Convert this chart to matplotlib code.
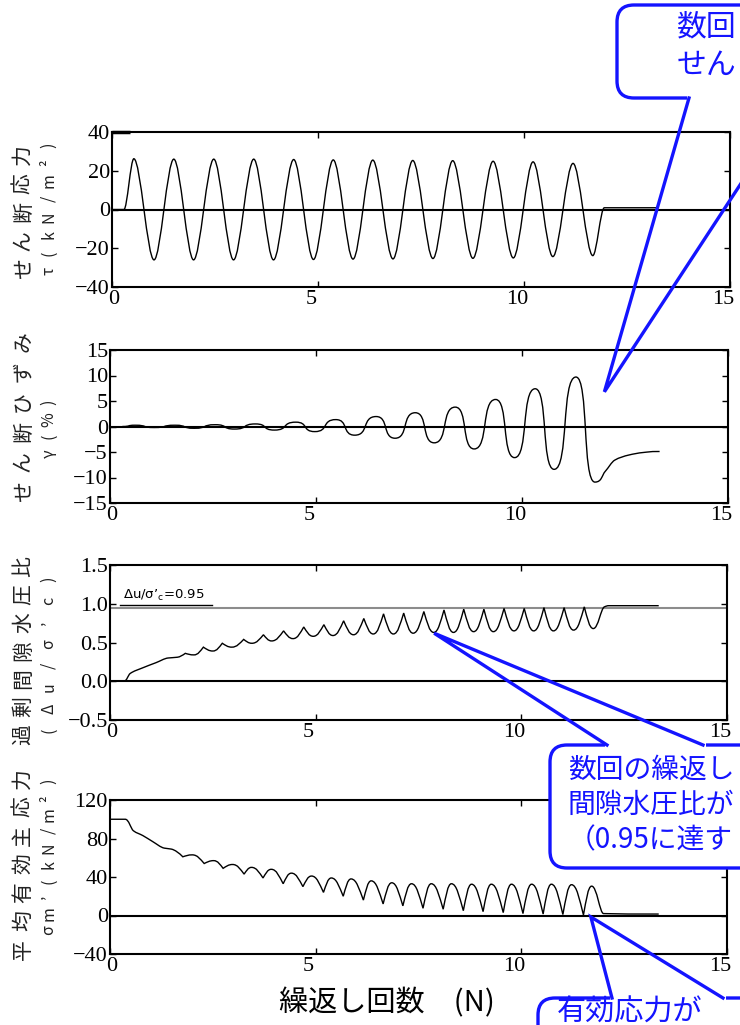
import numpy as np
import matplotlib
matplotlib.use("Agg")
import matplotlib.pyplot as plt
from matplotlib.path import Path
from matplotlib.patches import PathPatch, FancyBboxPatch
from matplotlib.lines import Line2D
from matplotlib.transforms import ScaledTranslation

# ---------------- data ----------------
x_ticks = [0, 5, 10, 15]

# shear stress tau (kN/m2): extremes of each half cycle
tau_N = [0.0, 0.29, 0.53, 1.02, 1.50, 1.98, 2.47, 2.95, 3.44, 3.92, 4.41, 4.89,
         5.37, 5.85, 6.33, 6.82, 7.30, 7.79, 8.27, 8.76, 9.25, 9.74, 10.22,
         10.70, 11.19, 11.67, 11.95, 13.25]
tau_kPa = [0.0, 0.0, 26.2, -26.0, 26.0, -26.0, 26.0, -26.0, 26.0, -26.0, 25.8,
           -25.8, 25.6, -25.6, 25.5, -25.5, 25.3, -25.3, 25.2, -25.2, 24.9,
           -25.0, 24.6, -24.3, 23.8, -23.8, 0.9, 0.9]
tau_cap_N = [0.0, 0.43]
tau_cap = [40.0, 40.0]

# shear strain gamma (%)
gamma_N = [0.30, 0.61, 1.07, 1.58, 2.04, 2.56, 3.02, 3.53, 3.99, 4.51, 4.97,
           5.48, 5.94, 6.46, 6.92, 7.41, 7.87, 8.38, 8.84, 9.36, 9.82, 10.32,
           10.78, 11.31, 11.77, 12.02, 12.25, 12.59, 12.94, 13.34]
gamma_pct = [0.0, 0.25, -0.2, 0.25, -0.35, 0.35, -0.5, 0.5, -0.7, 0.85, -1.0,
             1.35, -1.7, 1.95, -2.3, 2.7, -3.2, 3.8, -4.4, 5.3, -6.1, 7.4,
             -8.4, 9.7, -10.9, -8.8, -6.6, -5.6, -5.1, -4.9]

# excess pore water pressure ratio
ru_N = [0.0, 0.34, 0.49, 0.78, 1.12, 1.41, 1.64, 1.83, 2.04, 2.27, 2.50, 2.73,
        2.96, 3.25, 3.45, 3.73, 3.93, 4.22, 4.45, 4.71, 4.94, 5.20, 5.42, 5.68,
        5.92, 6.17, 6.40, 6.65, 6.89, 7.14, 7.37, 7.63, 7.87, 8.12, 8.35, 8.60,
        8.84, 9.09, 9.32, 9.58, 9.82, 10.07, 10.30, 10.55, 10.78, 11.04, 11.27,
        11.53, 11.75, 12.02, 12.13, 13.34]
ru = [0.0, 0.0, 0.10, 0.17, 0.24, 0.30, 0.31, 0.36, 0.34, 0.44, 0.39, 0.49,
      0.44, 0.54, 0.49, 0.60, 0.52, 0.65, 0.55, 0.70, 0.58, 0.73, 0.59, 0.78,
      0.60, 0.81, 0.61, 0.87, 0.61, 0.88, 0.62, 0.90, 0.63, 0.92, 0.63, 0.93,
      0.64, 0.93, 0.64, 0.94, 0.65, 0.94, 0.65, 0.95, 0.65, 0.95, 0.66, 0.96,
      0.68, 0.96, 0.975, 0.975]
ru_threshold = 0.95
ru_mark_N = [0.24, 2.48]
ru_mark = [0.99, 0.99]
ru_label = "Δu/σ’$_{\\rm c}$=0.95"

# mean effective principal stress (kN/m2)
sm_N = [0.0, 0.37, 0.57, 0.80, 1.03, 1.32, 1.49, 1.77, 2.00, 2.29, 2.52, 2.75,
        2.98, 3.26, 3.44, 3.72, 3.92, 4.21, 4.41, 4.69, 4.90, 5.19, 5.38, 5.67,
        5.86, 6.16, 6.35, 6.64, 6.85, 7.12, 7.33, 7.61, 7.81, 8.10, 8.30, 8.59,
        8.79, 9.07, 9.27, 9.56, 9.76, 10.04, 10.25, 10.53, 10.73, 11.01, 11.22,
        11.51, 11.71, 12.00, 13.34]
sm_kPa = [100.0, 100.0, 88.0, 83.0, 77.0, 70.0, 69.0, 61.0, 63.0, 54.0, 57.0,
          49.0, 53.0, 43.0, 50.0, 39.0, 48.0, 33.0, 44.0, 30.0, 41.0, 24.0, 39.0,
          20.0, 38.0, 16.0, 36.0, 12.0, 34.0, 10.0, 33.0, 7.5, 33.0, 6.5, 33.0,
          5.0, 32.5, 4.0, 32.5, 3.0, 32.5, 2.0, 32.5, 1.5, 32.5, 1.0, 32.0, 0.5,
          30.5, 2.0, 1.5]

panel_ylims = [(-40, 40), (-15, 15), (-0.5, 1.5), (-40, 120)]
panel_yticks = [[-40, -20, 0, 20, 40], [-15, -10, -5, 0, 5, 10, 15],
                [-0.5, 0.0, 0.5, 1.0, 1.5], [-40, 0, 40, 80, 120]]
panel_ydec = [0, 0, 1, 0]
ylabel_main = ["せん断応力", "せん断ひずみ", "過剰間隙水圧比", "平均有効主応力"]
ylabel_unit = ["τ(kN/m²)", "γ(%)", "(Δu/σ’c)", "σm’(kN/m²)"]
xlabel = "繰返し回数\u3000(N)"
# callout texts as far as they are visible in the (cropped) reference
callout1 = ["数回", "せん"]
callout2 = ["数回の繰返し", "間隙水圧比が", "（0.95に達す"]
callout3 = ["有効応力が"]
tip1_data = (12.0, 6.8)
tip2_data = (7.88, 0.62)
tip3_data = (11.69, -1.5)

# ---------------- style ----------------
W, H = 740, 1025
JP = ["Noto Sans CJK JP", "DejaVu Sans"]
SERIF = ["Liberation Serif", "DejaVu Serif"]
BLUE = "#1414ff"
plt.rcParams.update({
    "font.family": SERIF,
    "axes.linewidth": 1.5,
    "xtick.direction": "in", "ytick.direction": "in",
    "xtick.top": True, "ytick.right": True,
    "xtick.major.size": 4, "ytick.major.size": 4,
    "xtick.major.width": 1.0, "ytick.major.width": 1.0,
    "xtick.major.pad": 2.5, "ytick.major.pad": 1.5,
})

fig = plt.figure(figsize=(W / 100, H / 100), dpi=100)
T = fig.dpi_scale_trans


def px_axes(l, t, r, b):
    return fig.add_axes([l / W, 1 - b / H, (r - l) / W, (b - t) / H])


def smooth_curve(ax, xs, ys, cusp=None, flat=1 / 3, **kw):
    """Draw a smooth Bezier path through the read points."""
    xs = np.asarray(xs, float)
    ys = np.asarray(ys, float)
    n = len(xs)
    h = np.diff(xs)
    d = np.diff(ys) / h
    m_in = np.zeros(n)
    m_out = np.zeros(n)
    for i in range(1, n - 1):
        if d[i - 1] * d[i] > 0:
            w1 = 2 * h[i] + h[i - 1]
            w2 = h[i] + 2 * h[i - 1]
            m = (w1 + w2) / (w1 / d[i - 1] + w2 / d[i])
            m_in[i] = m_out[i] = m
        elif cusp is not None:
            is_max = d[i - 1] > 0 and d[i] < 0
            is_min = d[i - 1] < 0 and d[i] > 0
            if (cusp == "max" and is_max) or (cusp == "min" and is_min):
                m_in[i] = 1.5 * d[i - 1]
                m_out[i] = 1.5 * d[i]
    verts = [(xs[0], ys[0])]
    codes = [Path.MOVETO]
    for i in range(n - 1):
        hh = h[i]
        f0 = flat if m_out[i] == 0 else 1 / 3
        f1 = flat if m_in[i + 1] == 0 else 1 / 3
        verts += [(xs[i] + f0 * hh, ys[i] + m_out[i] * hh / 3),
                  (xs[i + 1] - f1 * hh, ys[i + 1] - m_in[i + 1] * hh / 3),
                  (xs[i + 1], ys[i + 1])]
        codes += [Path.CURVE4] * 3
    ax.add_patch(PathPatch(Path(verts, codes), fill=False, **kw))


def fmt(v, dec):
    return (f"{v:.{dec}f}").replace("-", "\u2212")


boxes = [(112, 132, 730, 287), (110, 350, 728, 503),
         (110, 565, 727, 720), (110, 800, 727, 954)]
axes = []
for k, (l, t, r, b) in enumerate(boxes):
    ax = px_axes(l, t, r, b)
    ax.set_xlim(0, 15)
    ax.set_ylim(*panel_ylims[k])
    ax.set_xticks(x_ticks, labels=[str(v) for v in x_ticks],
                  fontfamily=SERIF, fontsize=16)
    ax.set_yticks(panel_yticks[k],
                  labels=[fmt(v, panel_ydec[k]) for v in panel_yticks[k]],
                  fontfamily=SERIF, fontsize=16)
    for v, lab in zip(x_ticks, ax.get_xticklabels()):
        shift = 2 if v == 0 else -7
        lab.set_transform(lab.get_transform() + ScaledTranslation(shift / 100, 0, T))
    ax.axhline(0, color="black", lw=1.5, zorder=2)
    axes.append(ax)

line_kw = dict(color="black", lw=1.0, zorder=3)
smooth_curve(axes[0], tau_N, tau_kPa, **line_kw)
axes[0].plot(tau_cap_N, tau_cap, color="black", lw=2.5, solid_capstyle="butt",
             clip_on=False)
smooth_curve(axes[1], gamma_N, gamma_pct, flat=0.68, **line_kw)
axes[2].axhline(ru_threshold, color="#8c8c8c", lw=1.5, zorder=2)
axes[2].plot(ru_mark_N, ru_mark, color="black", lw=1.0)
axes[2].text(0.32, 1.005, ru_label, fontsize=9.5, ha="left", va="bottom",
             family="DejaVu Sans")
smooth_curve(axes[2], ru_N, ru, cusp="max", flat=0.45, **line_kw)
smooth_curve(axes[3], sm_N, sm_kPa, cusp="min", flat=0.45, **line_kw)

# ---------------- y labels (vertical, character by character) -------------


def P(x, y):
    return x / 100.0, (H - y) / 100.0


label_layout = [  # (col1 centre y, col2 centre y, col1 pitch, col2 pitch)
    (212, 208, 28.5, 18.0),
    (417, 428, 30.0, 17.0),
    (651, 655, 28.0, 21.5),
    (864, 856, 28.5, 16.5),
]
for k, (c1, c2, p1, p2) in enumerate(label_layout):
    for col_x, cy, pitch, txt, fs in ((23, c1, p1, ylabel_main[k], 15),
                                      (49, c2, p2, ylabel_unit[k], 11.5)):
        n = len(txt)
        for j, ch in enumerate(txt):
            y = cy + ((n - 1) / 2 - j) * pitch
            fig.text(*P(col_x, y), ch, transform=T, rotation=90, ha="center",
                     va="center", fontsize=fs, family=JP, color="#222222")

fig.text(*P(387, 1003), xlabel, transform=T, ha="center", va="center",
         fontsize=21, family=JP, color="black")

# ---------------- callouts ----------------


def data_to_px(ax, pt):
    dx, dy = ax.transData.transform(pt)
    return dx / fig.dpi * 100.0, H - dy / fig.dpi * 100.0


def callout(x0, y0, x1, y1, base_a, base_b, tip):
    box = FancyBboxPatch(P(x0, y1), (x1 - x0) / 100, (y1 - y0) / 100,
                         boxstyle="round,pad=0,rounding_size=0.17",
                         transform=T, fc="white", ec=BLUE, lw=2.4, zorder=10)
    fig.add_artist(box)
    gap = Line2D([P(*base_a)[0], P(*base_b)[0]], [P(*base_a)[1], P(*base_b)[1]],
                 transform=T, color="white", lw=3.6, zorder=11)
    fig.add_artist(gap)
    xs = [P(*base_a)[0], P(*tip)[0], P(*base_b)[0]]
    ys = [P(*base_a)[1], P(*tip)[1], P(*base_b)[1]]
    fig.add_artist(Line2D(xs, ys, transform=T, color=BLUE, lw=2.4, zorder=12,
                          solid_joinstyle="miter"))


tip1 = data_to_px(axes[1], tip1_data)
tip2 = data_to_px(axes[2], tip2_data)
tip3 = data_to_px(axes[3], tip3_data)
callout(617, 5, 960, 98, (689, 98), (797, 98), tip1)
callout(550, 745, 960, 868, (607, 745), (703, 745), tip2)
callout(538, 998, 960, 1150, (612, 998), (723, 998), tip3)

for j, s in enumerate(callout1):
    fig.text(*P(677, 27 + 38 * j), s, transform=T, ha="left", va="center",
             fontsize=21.5, family=JP, color=BLUE, zorder=13)
for j, s in enumerate(callout2):
    fig.text(*P(568, 770 + 35 * j), s, transform=T, ha="left", va="center",
             fontsize=20, family=JP, color=BLUE, zorder=13)
for j, s in enumerate(callout3):
    fig.text(*P(557, 1012), s, transform=T, ha="left", va="center",
             fontsize=21, family=JP, color=BLUE, zorder=13)

fig.savefig("out.png", dpi=100)
